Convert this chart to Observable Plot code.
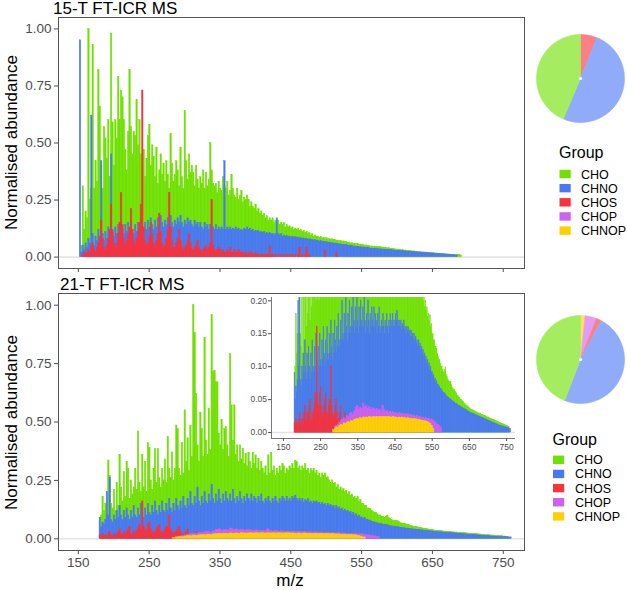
<!DOCTYPE html>
<html><head><meta charset="utf-8">
<script src="https://cdn.jsdelivr.net/npm/d3@7"></script>
<script src="https://cdn.jsdelivr.net/npm/@observablehq/plot@0.6"></script>
<style>
body{margin:0;background:#fff;}
#wrap{position:relative;width:627px;height:590px;overflow:hidden;background:#fff;font-family:"Liberation Sans",Arial,sans-serif;}
#wrap > svg{position:absolute;}
</style></head><body><div id="wrap"></div>
<script>
// ---------------- DATA ----------------
const groups = ["CHO", "CHNO", "CHOS", "CHOP", "CHNOP"];
const xTicks = [150, 250, 350, 450, 550, 650, 750];
const yTicks = [0, 0.25, 0.5, 0.75, 1];
const insetYTicks = [0, 0.05, 0.1, 0.15, 0.2];
const panelTitles = ["15-T FT-ICR MS", "21-T FT-ICR MS"];
// pie shares (%), in groups order
const pieShare15 = [43.6, 50.3, 6.1, 0, 0];
const pieShare21 = [44.2, 48.1, 1.9, 4.2, 1.7];

// m/z of first bin and bin width (Da)
const mzStep = 2, minorStep = 4;
const start15 = 152;
const start21 = 180, start21CHOP = 288, start21CHNOP = 284;

// 15-T spectrum, visible top height of each group per 2-Da bin
const ms15CHO = [
0,.05,.31,.12,.20,.17,1.00,.25,.30,.93,
.30,.42,.33,.82,.66,.40,.30,.57,.52,.43,
.60,.35,.98,.59,.40,.60,.52,.79,.60,.73,
.70,.60,.47,.38,.55,.82,.57,.45,.55,.53,
.69,.49,.60,.45,.40,.47,.35,.43,.53,.58,
.40,.49,.44,.35,.48,.32,.38,.45,.36,.41,
.33,.42,.36,.30,.54,.41,.33,.36,.42,.38,
.31,.48,.35,.30,.64,.42,.34,.45,.37,.40,
.37,.31,.40,.34,.30,.35,.32,.38,.30,.37,
.31,.34,.50,.38,.32,.31,.32,.28,.33,.30,
.29,.35,.31,.30,.33,.27,.29,.36,.30,.27,
.26,.30,.25,.27,.29,.24,.26,.25,.27,.25,
.22,.24,.22,.21,.23,.20,.21,.19,.20,.18,
.19,.17,.18,.16,.17,.16,.17,.15,.16,.15,
.16,.14,.15,.14,.15,.13,.14,.13,.135,.125,
.13,.12,.125,.12,.125,.115,.12,.11,.115,.105,
.11,.10,.105,.095,.10,.09,.095,.088,.09,.085,
.088,.082,.085,.08,.083,.078,.08,.076,.078,.074,
.076,.072,.073,.069,.071,.067,.069,.065,.066,.063,
.064,.06,.062,.058,.059,.056,.057,.054,.055,.052,
.053,.05,.051,.048,.049,.046,.047,.045,.046,.044,
.045,.043,.044,.042,.042,.04,.041,.038,.039,.036,
.037,.035,.035,.033,.033,.031,.031,.03,.03,.028,
.029,.027,.027,.026,.026,.024,.025,.023,.023,.022,
.022,.021,.021,.02,.02,.019,.019,.018,.018,.017,
.017,.016,.016,.015,.015,.014,.014,.013,.013,.012,
.012,.011,.011,.01,.01,.009,.01,.008,.008,.007];
const ms15CHNO = [
.95,.02,.05,.03,.06,.04,.08,.06,.62,.10,
.05,.09,.07,.12,.08,.42,.10,.07,.11,.08,
.13,.09,.45,.12,.09,.13,.10,.14,.11,.15,
.12,.10,.14,.11,.15,.12,.16,.12,.10,.14,
.11,.15,.12,.16,.13,.11,.15,.12,.16,.13,
.17,.14,.12,.16,.13,.17,.14,.18,.15,.13,
.16,.14,.17,.15,.18,.15,.13,.16,.14,.17,
.15,.18,.15,.13,.16,.14,.17,.15,.16,.14,
.13,.16,.14,.15,.13,.15,.13,.12,.15,.13,
.14,.12,.14,.12,.13,.12,.14,.12,.13,.12,
.13,.12,.42,.12,.13,.12,.13,.12,.125,.12,
.13,.12,.125,.115,.12,.115,.125,.12,.13,.12,
.125,.115,.12,.11,.115,.11,.115,.105,.11,.105,
.11,.10,.105,.10,.105,.10,.10,.095,.10,.17,
.10,.095,.10,.09,.095,.09,.092,.088,.09,.085,
.09,.085,.088,.083,.086,.082,.085,.08,.082,.078,
.08,.076,.078,.074,.076,.072,.074,.07,.072,.068,
.07,.066,.068,.064,.066,.062,.064,.06,.062,.059,
.06,.057,.058,.055,.056,.053,.054,.052,.052,.05,
.05,.048,.048,.046,.046,.045,.045,.043,.043,.042,
.042,.04,.04,.039,.039,.037,.037,.036,.036,.035,
.035,.034,.034,.033,.033,.032,.032,.031,.031,.03,
.03,.029,.029,.028,.028,.027,.027,.026,.026,.025,
.025,.024,.024,.023,.023,.022,.022,.021,.021,.02,
.02,.019,.019,.018,.018,.017,.017,.016,.016,.015,
.015,.014,.014,.013,.013,.012,.012,.011,.011,.01,
.01,.009,.009,.008,.008,.007,.007];
const ms15CHOS = [
0,0,.01,.02,.01,.02,.03,.02,.05,.06,
.03,.02,.04,.06,.09,.16,.08,.04,.03,.05,
.08,.12,.23,.11,.06,.04,.06,.10,.15,.28,
.14,.08,.05,.07,.10,.13,.21,.12,.07,.05,
.08,.11,.15,.23,.73,.13,.07,.05,.06,.09,
.15,.10,.06,.04,.07,.10,.19,.11,.06,.04,
.05,.08,.12,.28,.13,.07,.04,.04,.06,.08,
.12,.07,.04,.03,.04,.05,.07,.10,.06,.03,
.03,.04,.05,.07,.04,.03,.02,.03,.04,.05,
.03,.04,.06,.25,.05,.03,.02,.03,.04,.03,
.02,.03,.02,.02,.03,.02,.04,.02,.02,.03,
.02,.02,.03,.02,.02,.02,.01,.02,.01,.02,
.01,.02,.01,.01,.02,.01,.01,.01,.01,.01,
.01,.01,.01,.01,.05,.01,.01,0,.01,0,
.01,0,.01,0,.01,0,.01,0,.01,0,
.01,0,.01,0,.01,.04,0,.01,0,.01,
.04,0,.01,0,0,0,0,0,0,0,
0,0,0,.03,0,0,0,0,0,0,
0,.02];

// 21-T spectrum
const ms21CHO = [
0,.10,.18,.12,.15,.10,.335,.27,.15,.13,
.21,.12,.24,.14,.36,.22,.16,.285,.18,.33,
.30,.17,.25,.19,.22,.30,.21,.46,.24,.20,
.36,.22,.33,.20,.41,.39,.25,.21,.30,.385,
.24,.385,.26,.22,.30,.25,.34,.24,.435,.30,
.26,.37,.25,.30,.485,.47,.30,.27,.41,.28,
.55,.33,.43,.29,.485,.35,1.00,.88,.62,.40,
.33,.54,.47,.35,.86,.42,.36,.556,.38,.957,
.714,.72,.67,.67,.45,.40,.51,.38,.47,.478,
.40,.35,.79,.571,.42,.571,.36,.40,.33,.40,
.34,.385,.32,.364,.31,.371,.33,.30,.40,.32,
.357,.30,.342,.29,.328,.30,.28,.31,.27,.357,
.28,.371,.29,.31,.27,.30,.28,.31,.29,.32,
.31,.28,.30,.29,.31,.30,.32,.30,.335,.33,
.30,.31,.29,.31,.30,.32,.29,.30,.28,.30,
.29,.30,.28,.29,.27,.28,.26,.28,.27,.28,
.26,.263,.25,.24,.25,.235,.24,.22,.23,.21,
.22,.205,.213,.20,.206,.19,.20,.185,.19,.175,
.18,.17,.178,.16,.165,.15,.149,.14,.14,.13,
.13,.127,.12,.115,.11,.11,.105,.10,.10,.095,
.093,.09,.095,.099,.088,.084,.08,.078,.076,.077,
.077,.072,.068,.066,.064,.065,.062,.06,.058,.056,
.055,.053,.052,.05,.05,.048,.047,.046,.044,.043,
.042,.041,.04,.039,.038,.037,.036,.035,.034,.034,
.033,.033,.032,.031,.031,.03,.03,.029,.029,.028,
.028,.027,.027,.026,.026,.025,.025,.024,.024,.023,
.023,.022,.022,.021,.021,.02,.02,.019,.019,.018,
.018,.017,.017,.016,.016,.015,.015,.014,.014,.013,
.013,.012,.012,.011,.011,.01,.01,.009,.009];
const ms21CHNO = [
.09,.05,.07,.06,.08,.20,.10,.26,.08,.07,
.10,.08,.12,.09,.14,.10,.08,.12,.09,.13,
.10,.08,.12,.09,.14,.10,.09,.13,.10,.15,
.11,.09,.13,.10,.15,.11,.10,.14,.11,.16,
.12,.10,.14,.11,.16,.12,.11,.15,.12,.17,
.13,.11,.15,.12,.17,.14,.12,.16,.13,.18,
.14,.13,.17,.14,.20,.15,.14,.18,.15,.22,
.16,.14,.18,.15,.20,.16,.15,.19,.16,.23,
.17,.15,.19,.16,.21,.17,.15,.19,.16,.20,
.17,.16,.19,.16,.21,.17,.15,.18,.16,.20,
.17,.15,.18,.16,.19,.17,.16,.19,.16,.18,
.17,.15,.18,.16,.19,.16,.15,.17,.16,.18,
.16,.15,.17,.16,.18,.16,.15,.17,.16,.18,
.17,.16,.18,.16,.17,.16,.18,.17,.185,.17,
.16,.17,.16,.17,.155,.165,.16,.17,.155,.16,
.15,.16,.155,.16,.15,.155,.145,.155,.145,.15,
.14,.15,.14,.145,.135,.14,.13,.14,.13,.135,
.125,.13,.12,.125,.115,.12,.11,.115,.105,.11,
.10,.105,.095,.10,.09,.092,.085,.088,.08,.082,
.076,.078,.072,.073,.068,.07,.065,.066,.062,.063,
.06,.06,.058,.058,.055,.055,.053,.053,.051,.051,
.05,.049,.048,.047,.046,.045,.044,.044,.043,.042,
.041,.04,.04,.039,.038,.038,.037,.036,.036,.035,
.034,.034,.033,.032,.032,.031,.03,.03,.029,.029,
.028,.028,.027,.027,.026,.026,.025,.025,.024,.024,
.023,.023,.022,.022,.021,.021,.02,.02,.019,.019,
.018,.018,.017,.017,.016,.016,.015,.015,.014,.014,
.013,.013,.012,.012,.011,.011,.01,.01,.01,.009,
.009,.009,.008,.008,.008,.007,.007,.007,.006,.006,.006];
const ms21CHOS = [
.015,.01,.02,.01,.015,.01,.02,.03,.015,.01,
.02,.01,.02,.03,.04,.02,.015,.03,.02,.03,
.04,.05,.02,.015,.03,.02,.035,.045,.06,.04,
.16,.05,.03,.04,.06,.07,.04,.02,.03,.025,
.04,.05,.06,.03,.02,.03,.04,.05,.05,.10,
.04,.03,.02,.025,.03,.04,.05,.03,.02,.015,
.02,.03,.04,.02,.015,.01,.015,.02,.03,.015,
.01,.01,.015,.01,.005,.01];
const ms21CHOP = [
.008,.01,.012,.015,.018,.02,.022,.02,.025,.024,
.028,.03,.027,.032,.038,.04,.035,.038,.036,.044,
.038,.04,.036,.039,.035,.037,.036,.034,.036,.033,
.035,.032,.04,.034,.031,.033,.03,.032,.03,.031,
.029,.03,.028,.03,.028,.029,.027,.028,.027,.028,
.026,.027,.025,.026,.024,.025,.023,.024,.022,.023,
.021,.022,.02,.021,.019,.02,.018,.016,.014,.012,
.01,.008];
const ms21CHNOP = [
.004,.006,.008,.007,.01,.012,.011,.014,.013,.015,
.016,.015,.018,.017,.019,.02,.021,.02,.022,.021,
.023,.022,.023,.022,.024,.023,.023,.024,.023,.024,
.023,.024,.023,.024,.023,.024,.023,.024,.023,.023,
.024,.023,.023,.022,.023,.022,.023,.022,.022,.021,
.022,.021,.021,.02,.021,.02,.02,.019,.019,.018,
.018,.017,.017,.016,.015,.013,.01,.006];

// ---------------- STYLE ----------------
const palette = ["#6fe000", "#4a78f5", "#f9323c", "#d060ef", "#ffd000"];
const FONT = '"Liberation Sans", Arial, sans-serif';

const series15 = [
  {group: "CHO", start: start15, step: mzStep, values: ms15CHO},
  {group: "CHNO", start: start15, step: mzStep, values: ms15CHNO},
  {group: "CHOS", start: start15, step: mzStep, values: ms15CHOS}
];
const series21 = [
  {group: "CHO", start: start21, step: mzStep, values: ms21CHO},
  {group: "CHNO", start: start21, step: mzStep, values: ms21CHNO},
  {group: "CHOS", start: start21, step: mzStep, values: ms21CHOS},
  {group: "CHOP", start: start21CHOP, step: minorStep, values: ms21CHOP},
  {group: "CHNOP", start: start21CHNOP, step: minorStep, values: ms21CHNOP}
];

function barRows(s) {
  return s.values.map((v, i) => ({mz0: s.start + i * s.step, mz1: s.start + (i + 1) * s.step, v}));
}
function bars(list, extra = {}) {
  return list.map(s => {
    const col = palette[groups.indexOf(s.group)];
    return Plot.rect(barRows(s), {x1: "mz0", x2: "mz1", y1: 0, y2: "v", filter: d => d.v > 0,
      fill: col, stroke: col, strokeWidth: 0.45, ...extra});
  });
}

const xDomain = [122, 780], yDomain = [-0.05, 1.05];
const axisStyle = {background: "transparent", fontFamily: FONT, fontSize: "13.5px", color: "#4d4d4d", overflow: "visible"};

function panel(list, showLabels, height, marginBottom) {
  return Plot.plot({
    width: 527, height, marginLeft: 58, marginRight: 3, marginTop: 17, marginBottom,
    style: axisStyle,
    x: {domain: xDomain, ticks: xTicks, tickSize: 4, tickPadding: 3, label: null,
        tickFormat: showLabels ? d => String(d) : () => ""},
    y: {domain: yDomain, ticks: yTicks, tickFormat: ".2f", tickSize: 4, tickPadding: 3, label: null},
    marks: [
      Plot.ruleY([0], {stroke: "#e4e4e4", strokeWidth: 1.6}),
      ...bars(list),
      Plot.frame({stroke: "#555", strokeWidth: 1})
    ]
  });
}

const wrap = document.getElementById("wrap");
const p15 = panel(series15, false, 276, 8);
p15.style.left = "0px"; p15.style.top = "0px";
wrap.appendChild(p15);
const p21 = panel(series21, true, 300, 26);
p21.style.left = "0px"; p21.style.top = "276px";
wrap.appendChild(p21);

// inset
const insetX = [118, 774], insetY = [-0.009, 0.205];
const inset = Plot.plot({
  width: 276, height: 158, marginLeft: 25, marginRight: 7, marginTop: 3, marginBottom: 14,
  style: {background: "white", fontFamily: FONT, fontSize: "8.5px", color: "#4d4d4d"},
  x: {domain: insetX, ticks: xTicks, tickSize: 3, tickPadding: 2, label: null, tickFormat: d => String(d)},
  y: {domain: insetY, ticks: insetYTicks, tickFormat: ".2f", tickSize: 3, tickPadding: 1.5, label: null},
  marks: [
    Plot.ruleY([0], {stroke: "#e4e4e4", strokeWidth: 1.4}),
    ...bars(series21, {clip: true}),
    Plot.ruleX([insetX[0]], {stroke: "#555", strokeWidth: 0.8}),
    Plot.ruleY([insetY[0]], {stroke: "#555", strokeWidth: 0.8})
  ]
});
inset.style.left = "246px"; inset.style.top = "294px";
wrap.appendChild(inset);

// pies
function pie(shares) {
  const order = [4, 3, 2, 1, 0]; // clockwise from 12 o'clock
  const total = d3.sum(shares);
  let acc = 0;
  const marks = [];
  for (const k of order) {
    const share = shares[k];
    if (!share) continue;
    const a0 = acc / total * 2 * Math.PI, a1 = (acc + share) / total * 2 * Math.PI;
    acc += share;
    const n = Math.max(2, Math.ceil((a1 - a0) / (Math.PI / 180)));
    const pts = [{px: 0, py: 0}];
    for (let i = 0; i <= n; i++) { const a = a0 + (a1 - a0) * i / n; pts.push({px: Math.sin(a), py: Math.cos(a)}); }
    pts.push({px: 0, py: 0});
    const col = d3.interpolateRgb("#ffffff", palette[k])(0.62);
    marks.push(Plot.line(pts, {x: "px", y: "py", fill: col, stroke: col, strokeWidth: 0.6, curve: "linear"}));
  }
  marks.push(Plot.dot([{px: 0, py: 0}], {x: "px", y: "py", r: 1.6, fill: "white"}));
  return Plot.plot({width: 92, height: 92, margin: 2, style: {background: "transparent"},
    x: {domain: [-1, 1], axis: null}, y: {domain: [-1, 1], axis: null}, marks});
}
const pie15 = pie(pieShare15); pie15.style.left = "534.2px"; pie15.style.top = "32.3px"; wrap.appendChild(pie15);
const pie21 = pie(pieShare21); pie21.style.left = "533.7px"; pie21.style.top = "312.8px"; wrap.appendChild(pie21);

// overlay texts and legends
const ov = d3.select(wrap).append("svg").attr("width", 627).attr("height", 590)
  .style("left", "0px").style("top", "0px").style("font-family", FONT);
ov.append("text").attr("x", 53).attr("y", 14).attr("font-size", 17).attr("fill", "#000").text(panelTitles[0]);
ov.append("text").attr("x", 60).attr("y", 290).attr("font-size", 17).attr("fill", "#000").text(panelTitles[1]);
for (const cy of [142.5, 422.5]) {
  ov.append("text").attr("transform", `translate(16.7,${cy}) rotate(-90)`).attr("text-anchor", "middle")
    .attr("font-size", 17).attr("fill", "#000").text("Normalised abundance");
}
ov.append("text").attr("x", 290).attr("y", 585.5).attr("text-anchor", "middle").attr("font-size", 17).attr("fill", "#000").text("m/z");

function legend(x, titleY, firstRowY, labelX) {
  ov.append("text").attr("x", x).attr("y", titleY).attr("font-size", 16).attr("fill", "#000").text("Group");
  groups.forEach((g, i) => {
    const cy = firstRowY + i * 14.15;
    ov.append("rect").attr("x", x + 0.5).attr("y", cy - 4.2).attr("width", 11.2).attr("height", 8.4).attr("fill", palette[i]);
    ov.append("text").attr("x", labelX).attr("y", cy + 4.5).attr("font-size", 12.5).attr("fill", "#000").text(g);
  });
}
legend(559, 158, 174, 581);
legend(552.5, 444.5, 459.8, 575);
</script></body></html>
